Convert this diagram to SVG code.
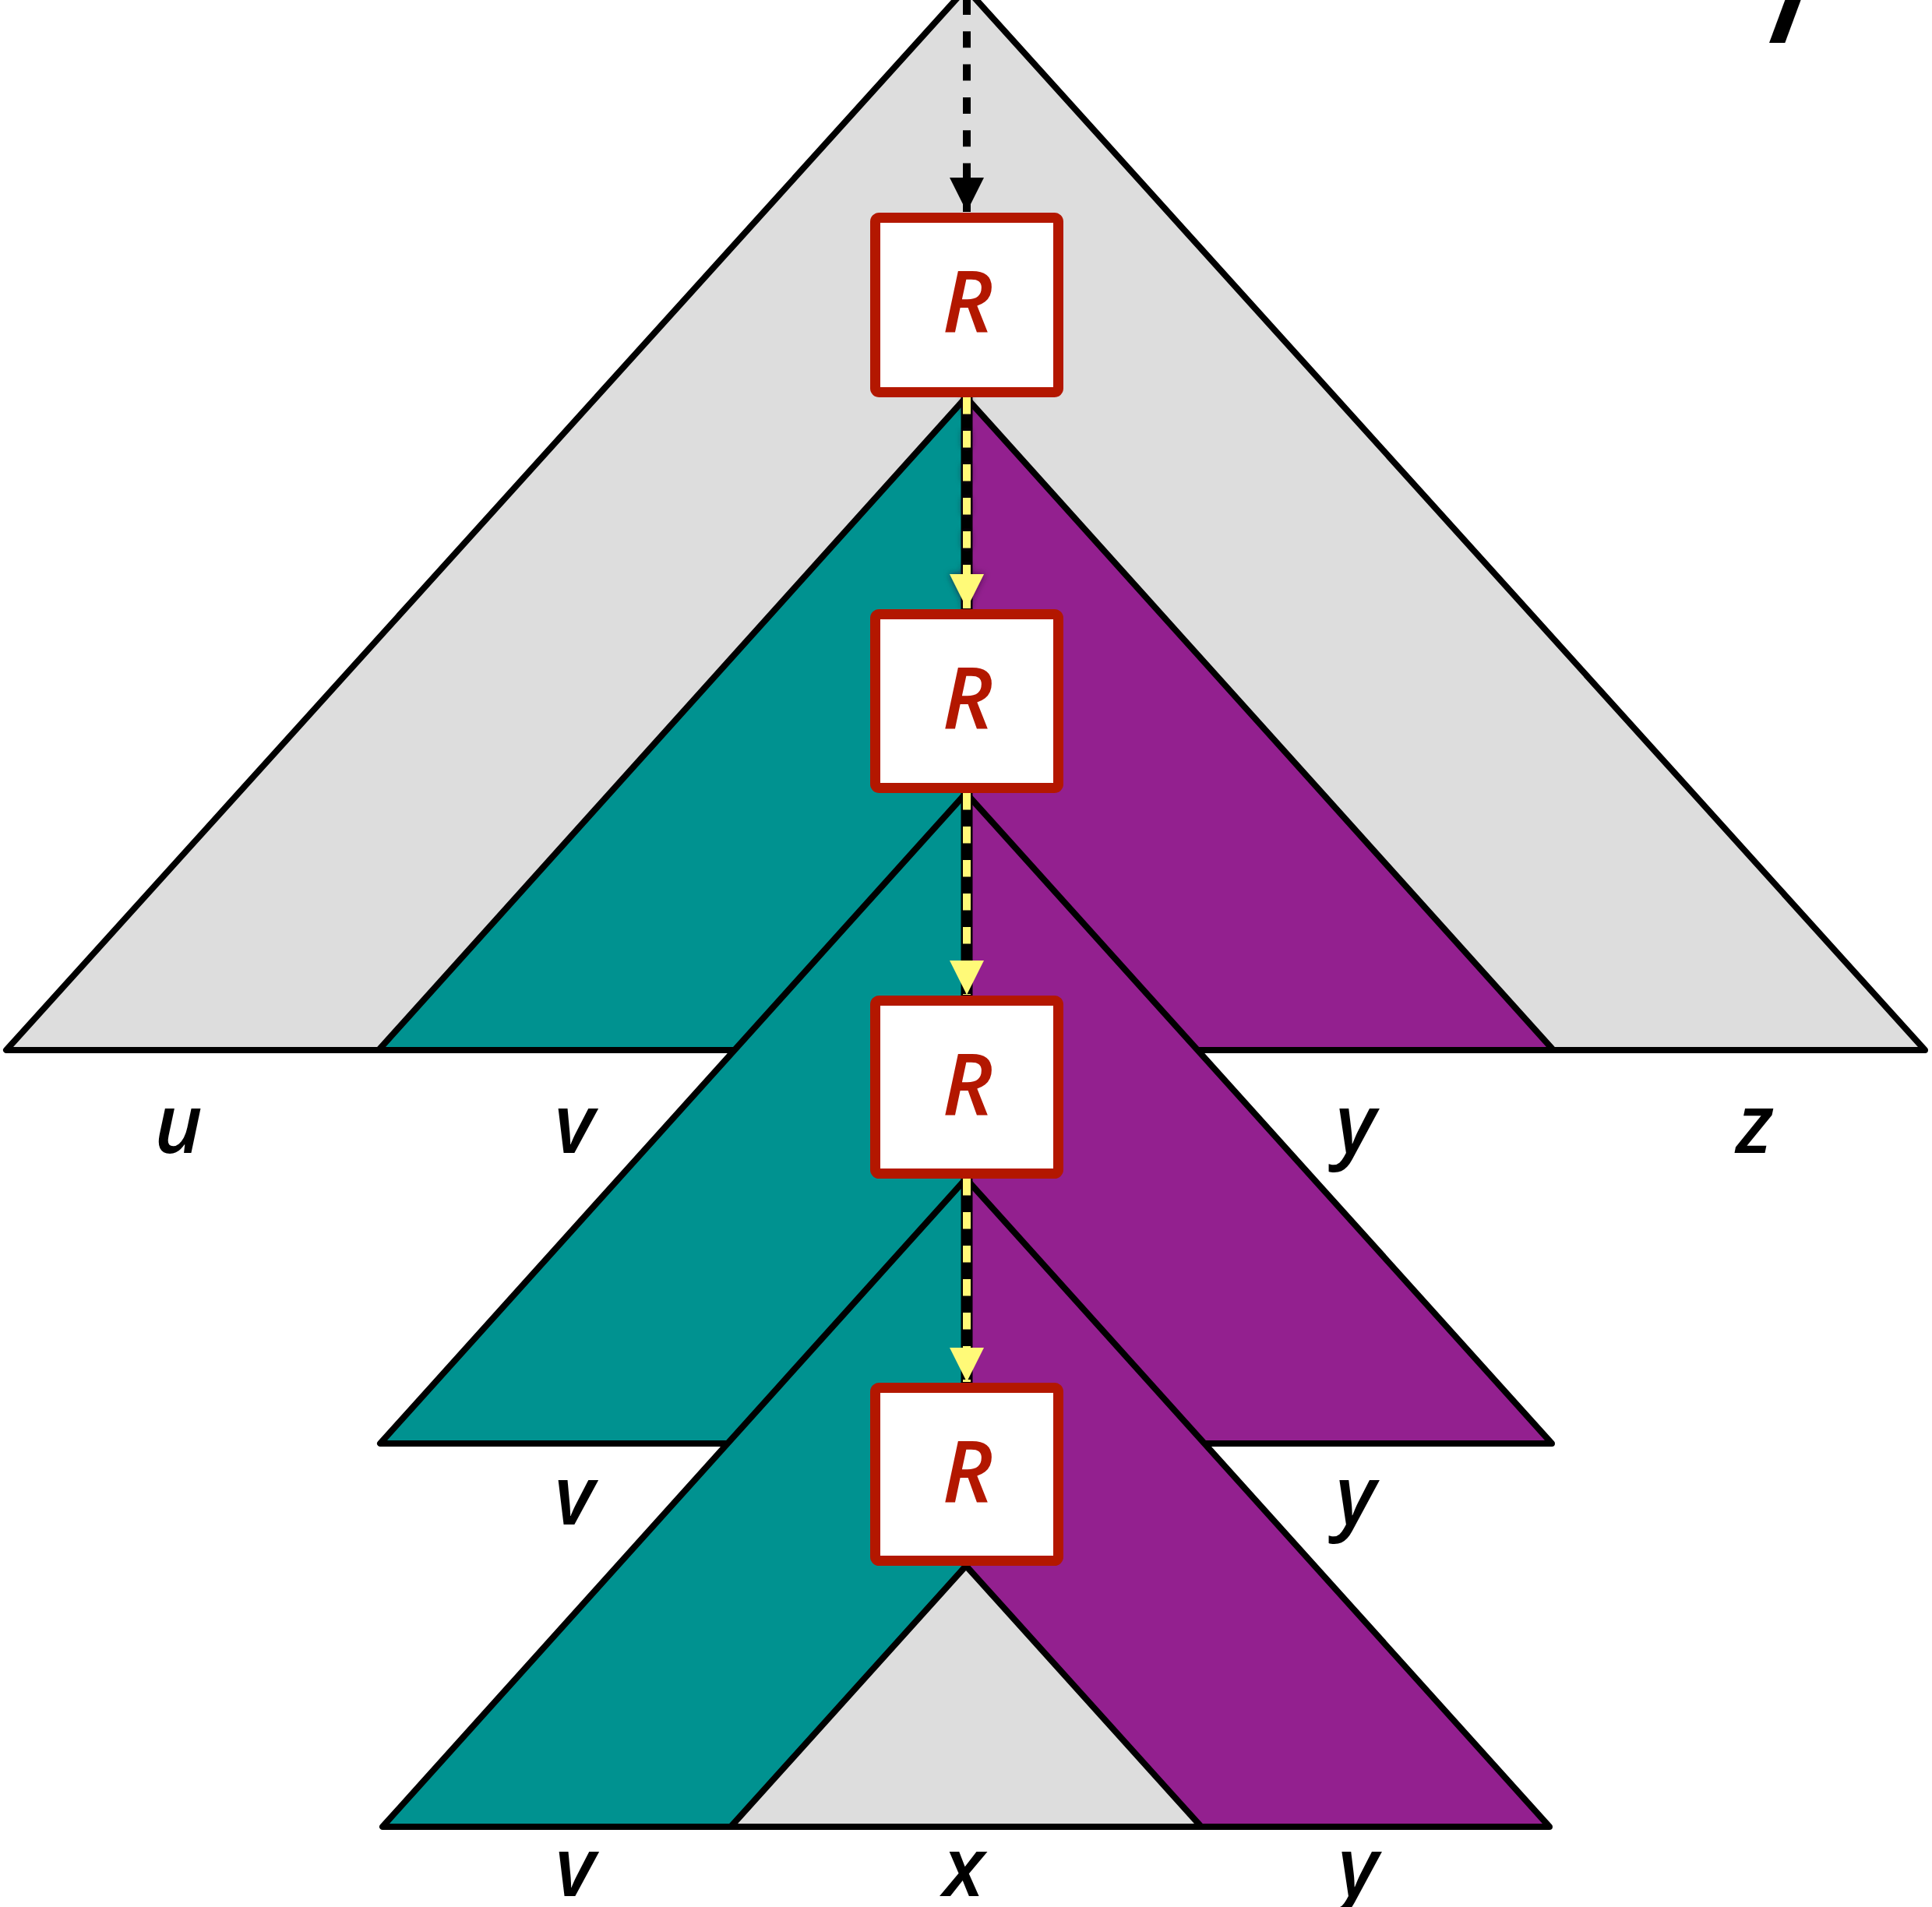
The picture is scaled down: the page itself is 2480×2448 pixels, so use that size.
<svg xmlns="http://www.w3.org/2000/svg" width="2480" height="2448" viewBox="0 0 2480 2448">
  <defs>
    <style>
      .edge { stroke: #000; stroke-width: 8; stroke-linejoin: round; stroke-linecap: round; fill: none; }
      .gray { fill: #DDDDDD; }
      .teal { fill: #009290; }
      .purple { fill: #93208F; }
      .box { fill: #FFFFFF; stroke: #B31700; stroke-width: 13; }
      .rlabel { font-family: "Open Sans", "Noto Sans", sans-serif; font-style: italic; font-weight: 600; font-size: 110px; fill: #B31700; text-anchor: middle; }
      .leaf { font-family: "Open Sans", "Noto Sans", sans-serif; font-style: italic; font-weight: 600; font-size: 105px; fill: #000; text-anchor: middle; }
      .blackdash { stroke: #000; stroke-width: 10; fill: none; stroke-dasharray: 21 21.3; }
      .under { stroke: #000; stroke-width: 15; fill: none; }
      .yellowdash { stroke: #FFFA78; stroke-width: 10; fill: none; stroke-dasharray: 21.5 21.5; }
    </style>
    <marker id="arrowBlack" markerUnits="userSpaceOnUse" markerWidth="44" markerHeight="44" viewBox="0 0 44 44" refX="44" refY="22" orient="auto">
      <path d="M0,0 L44,22 L0,44 Z" fill="#000"/>
    </marker>
    <marker id="arrowYellow" markerUnits="userSpaceOnUse" markerWidth="44" markerHeight="44" viewBox="0 0 44 44" refX="44" refY="22" orient="auto">
      <path d="M0,0 L44,22 L0,44 Z" fill="#FFFA78"/>
    </marker>
    <filter id="shadow" filterUnits="userSpaceOnUse" x="1180" y="490" width="120" height="320">
      <feDropShadow dx="0" dy="0" stdDeviation="4" flood-color="#2a002a" flood-opacity="0.7"/>
    </filter>
  </defs>

  <rect x="0" y="0" width="2480" height="2448" fill="#FFFFFF"/>

  <!-- Root tree -->
  <g id="tree-root">
    <polygon class="gray" points="1240,-15 8,1348 2471,1348"/>
    <polygon class="edge" points="1240,-15 8,1348 2471,1348"/>
  </g>

  <!-- Level 1 subtrees -->
  <g id="level1">
    <polygon class="teal" points="1240,510 486,1348 1240,1348"/>
    <polygon class="purple" points="1240,510 1240,1348 1994,1348"/>
    <polygon class="edge" points="1240,510 486,1348 1994,1348"/>
  </g>

  <!-- Level 2 subtrees -->
  <g id="level2">
    <polygon class="teal" points="1240,1018 488,1853 1240,1853"/>
    <polygon class="purple" points="1240,1018 1240,1853 1992,1853"/>
    <polygon class="edge" points="1240,1018 488,1853 1992,1853"/>
  </g>

  <!-- Level 3 subtrees -->
  <g id="level3">
    <polygon class="teal" points="1240,1513 491,2345 1240,2345"/>
    <polygon class="purple" points="1240,1513 1240,2345 1989,2345"/>
    <polygon class="edge" points="1240,1513 491,2345 1989,2345"/>
  </g>

  <!-- Subtree x -->
  <g id="tree-x">
    <polygon class="gray" points="1240,2010 938,2345 1542,2345"/>
    <polygon class="edge" points="1240,2010 938,2345 1542,2345"/>
  </g>

  <!-- Connectors -->
  <g id="connectors">
    <path class="blackdash" d="M1241,-2 L1241,272" marker-end="url(#arrowBlack)"/>

    <path class="under" d="M1241,510 L1241,782"/>
    <g filter="url(#shadow)">
      <path class="yellowdash" d="M1241,510 L1241,781" marker-end="url(#arrowYellow)"/>
    </g>

    <path class="under" d="M1241,1018 L1241,1278"/>
    <path class="yellowdash" d="M1241,1018 L1241,1277" marker-end="url(#arrowYellow)"/>

    <path class="under" d="M1241,1513 L1241,1775"/>
    <path class="yellowdash" d="M1241,1513 L1241,1774" marker-end="url(#arrowYellow)"/>
  </g>

  <!-- Rewrite boxes -->
  <g id="box1">
    <rect class="box" x="1123.5" y="279.5" width="235" height="224" rx="5"/>
    <text class="rlabel" x="1242" y="427">R</text>
  </g>
  <g id="box2">
    <rect class="box" x="1123.5" y="788.5" width="235" height="223" rx="5"/>
    <text class="rlabel" x="1242" y="936">R</text>
  </g>
  <g id="box3">
    <rect class="box" x="1123.5" y="1284.5" width="235" height="222" rx="5"/>
    <text class="rlabel" x="1242" y="1432">R</text>
  </g>
  <g id="box4">
    <rect class="box" x="1123.5" y="1781.5" width="235" height="222" rx="5"/>
    <text class="rlabel" x="1242" y="1929">R</text>
  </g>

  <!-- Leaf labels -->
  <g id="labels">
    <text class="leaf" x="229" y="1480">u</text>
    <text class="leaf" x="737" y="1480">v</text>
    <text class="leaf" x="1740" y="1480">y</text>
    <text class="leaf" x="2252" y="1480">z</text>

    <text class="leaf" x="737" y="1957">v</text>
    <text class="leaf" x="1740" y="1957">y</text>

    <text class="leaf" x="738" y="2434">v</text>
    <text class="leaf" x="1237" y="2434">x</text>
    <text class="leaf" x="1743" y="2434">y</text>

    <text x="2270" y="55" style="font-family: 'Open Sans', 'Noto Sans', sans-serif; font-weight: 700; font-size: 150px; fill: #000;">/</text>
  </g>
</svg>
